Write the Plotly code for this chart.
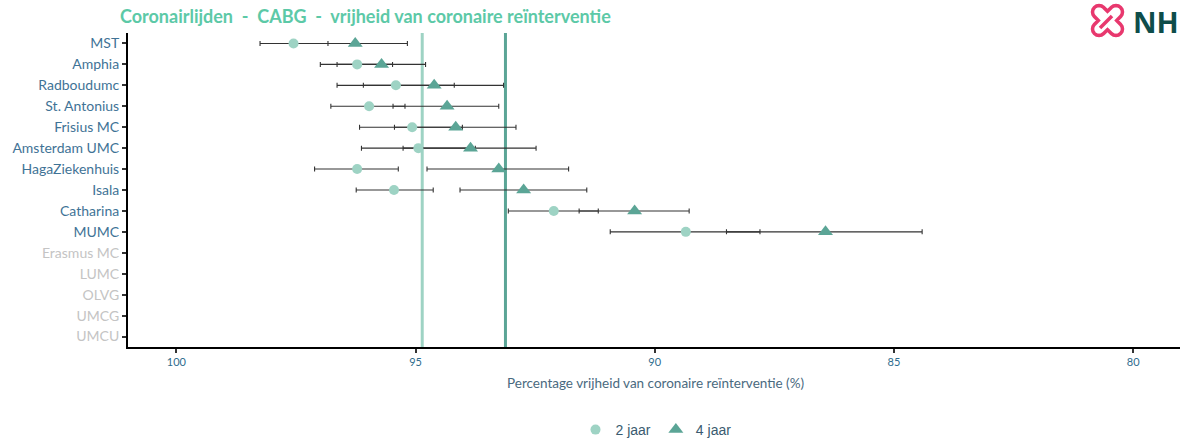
import math
import plotly.graph_objects as go

# ---------------- data ----------------
centres = ["MST", "Amphia", "Radboudumc", "St. Antonius", "Frisius MC", "Amsterdam UMC",
           "HagaZiekenhuis", "Isala", "Catharina", "MUMC", "Erasmus MC", "LUMC", "OLVG",
           "UMCG", "UMCU"]
centres_met_data = centres[:10]
centres_zonder_data = centres[10:]

val_2j = [97.55, 96.22, 95.41, 95.97, 95.07, 94.94, 96.22, 95.45, 92.11, 89.35]
ci_laag_2j = [96.83, 95.48, 94.19, 95.22, 94.02, 93.75, 95.36, 94.63, 91.18, 87.80]
ci_hoog_2j = [98.25, 96.99, 96.64, 96.77, 96.17, 96.13, 97.11, 96.24, 93.06, 90.93]

val_4j = [96.26, 95.71, 94.61, 94.34, 94.16, 93.85, 93.26, 92.74, 90.42, 86.43]
ci_laag_4j = [95.17, 94.79, 93.16, 93.26, 92.90, 92.48, 91.80, 91.42, 89.28, 84.41]
ci_hoog_4j = [97.60, 96.64, 96.09, 95.47, 95.44, 95.26, 94.76, 94.07, 91.58, 88.50]

gemiddelde = {"2 jaar": 94.86, "4 jaar": 93.12}
x_ticks = [100, 95, 90, 85, 80]

# ---------------- style ----------------
C_2J = "#9ED3C4"
C_4J = "#5BA596"
C_TITLE = "#5CC9A7"
C_LABEL = "#3F7396"
C_GREY = "#C4C4C4"
W, H = 1180, 444
L, R, T, B = 128, 0, 33, 444 - 347


def px_to_paper(px, py):
    return (px - L) / (W - L - R), (H - B - py) / (H - T - B)


fig = go.Figure()


def err_trace(vals, lo, hi):
    return go.Scatter(
        x=vals, y=centres_met_data, mode="markers",
        marker=dict(size=1, opacity=0), showlegend=False, hoverinfo="skip",
        error_x=dict(type="data", symmetric=False,
                     array=[h - v for v, h in zip(vals, hi)],
                     arrayminus=[v - l for v, l in zip(vals, lo)],
                     color="#333333", thickness=1.1, width=2.5))


fig.add_trace(err_trace(val_2j, ci_laag_2j, ci_hoog_2j))
fig.add_trace(err_trace(val_4j, ci_laag_4j, ci_hoog_4j))

fig.add_trace(go.Scatter(x=val_2j, y=centres_met_data, mode="markers", name="2 jaar",
                         marker=dict(symbol="circle", size=10, color=C_2J)))
fig.add_trace(go.Scatter(x=val_4j, y=centres_met_data, mode="markers", name="4 jaar",
                         marker=dict(symbol="triangle-up", size=13, color=C_4J)))

# average lines
for naam, kleur in (("2 jaar", C_2J), ("4 jaar", C_4J)):
    fig.add_shape(type="line", xref="x", yref="paper", x0=gemiddelde[naam], x1=gemiddelde[naam],
                  y0=0, y1=1, line=dict(color=kleur, width=3), layer="below")

ticktext = [f"<span style='color:{C_GREY}'>{c}</span>" if c in centres_zonder_data else c
            for c in centres]

lgx, lgy = px_to_paper(656, 430)
fig.update_layout(
    width=W, height=H,
    margin=dict(l=L, r=R, t=T, b=B, autoexpand=False),
    plot_bgcolor="white", paper_bgcolor="white",
    font=dict(family="Lato, Open Sans, sans-serif", color=C_LABEL),
    title=dict(text="Coronairlijden  -  CABG  -  vrijheid van coronaire reïnterventie",
               x=120 / W, xanchor="left", xref="container",
               y=1 - 17 / H, yanchor="middle", yref="container",
               font=dict(size=18, color=C_TITLE, family="Lato, sans-serif", weight="bold")),
    xaxis=dict(range=[101.01, 79.02], tickvals=x_ticks, ticktext=[str(t) for t in x_ticks],
               showgrid=False, zeroline=False, showline=True, linecolor="black", linewidth=2,
               ticks="outside", ticklen=4, tickcolor="#333333", tickwidth=1.5,
               tickfont=dict(size=11, color="#2F6C8E")),
    yaxis=dict(categoryorder="array", categoryarray=centres, tickvals=centres, ticktext=ticktext,
               range=[14.5, -0.5], showgrid=False, zeroline=False,
               showline=True, linecolor="black", linewidth=2,
               ticks="outside", ticklen=4, tickcolor="#333333", tickwidth=2,
               tickfont=dict(size=14, color=C_LABEL)),
    legend=dict(orientation="h", x=lgx, xanchor="center", y=lgy, yanchor="middle",
                font=dict(size=14, color="#3A5B70", family="Liberation Sans, Arial, sans-serif"),
                itemwidth=30, tracegroupgap=0),
    showlegend=True,
)

ax, ay = px_to_paper(655, 383)
fig.add_annotation(text="Percentage vrijheid van coronaire reïnterventie (%)",
                   xref="paper", yref="paper", x=ax, y=ay,
                   yanchor="middle", showarrow=False,
                   font=dict(size=13.5, color="#4A6A80", family="Lato, sans-serif"))

# ---- NHR logo (decorative) ----
cx, cy = 1107.5, 20.5
a, h = 18.5, 6.5
pts = []


def arc(cu, cv, r, a0, a1, n=8):
    for i in range(n + 1):
        t = a0 + (a1 - a0) * i / n
        pts.append((cu + r * math.cos(t), cv + r * math.sin(t)))


arc(a - h, 0, h, -math.pi / 2, math.pi / 2); pts.append((h, h))
arc(0, a - h, h, 0, math.pi); pts.append((-h, h))
arc(-(a - h), 0, h, math.pi / 2, 3 * math.pi / 2); pts.append((-h, -h))
arc(0, -(a - h), h, math.pi, 2 * math.pi); pts.append((h, -h))
path = ""
cs = math.cos(math.pi / 4)
for i, (u, v) in enumerate(pts):
    X, Y = px_to_paper(cx + (u - v) * cs, cy + (u + v) * cs)
    path += ("M" if i == 0 else "L") + f"{X:.5f},{Y:.5f} "
path += "Z"
fig.add_shape(type="path", xref="paper", yref="paper", path=path,
              line=dict(color="#E8386E", width=3.5), fillcolor="rgba(0,0,0,0)")
x0, y0 = px_to_paper(1100, 28)
x1, y1 = px_to_paper(1112, 16)
fig.add_shape(type="line", xref="paper", yref="paper", x0=x0, y0=y0, x1=x1, y1=y1,
              line=dict(color="#E8386E", width=3.5))
lx, ly = px_to_paper(1131, 22)
fig.add_annotation(text="<b>NHR</b>", xref="paper", yref="paper", x=lx, y=ly,
                   xanchor="left", yanchor="middle", showarrow=False,
                   font=dict(size=29, color="#0E4D4A", family="Open Sans, sans-serif"))

fig.write_html("out.html", config={"displayModeBar": False},
               post_script="document.body.style.margin='0';"
                           "document.body.style.overflow='hidden';")
